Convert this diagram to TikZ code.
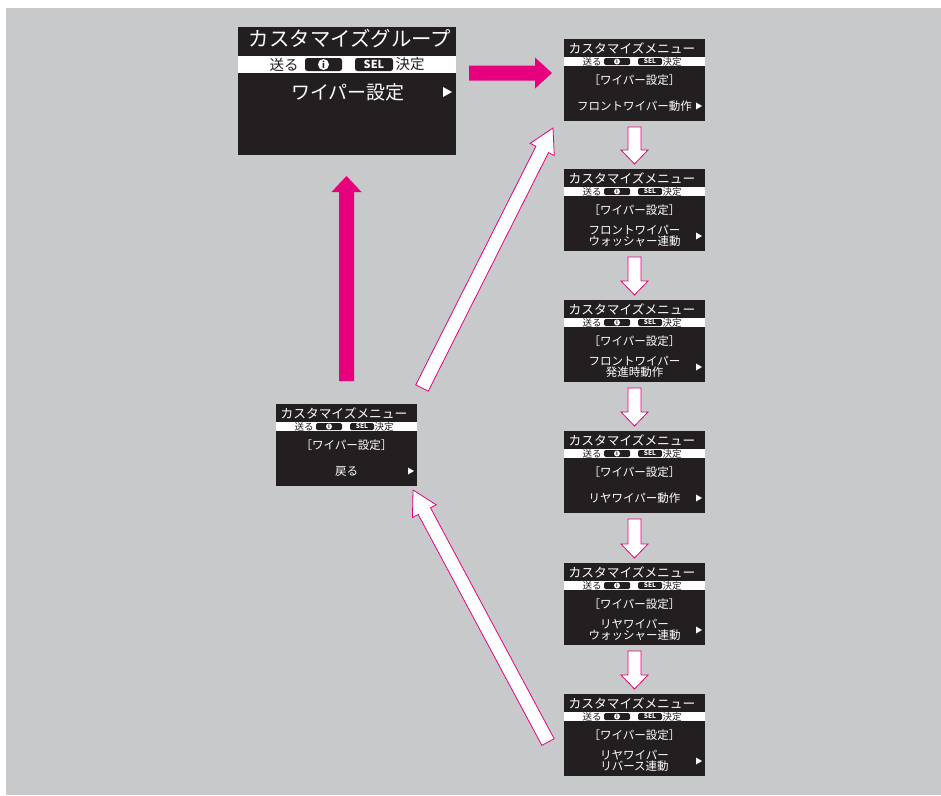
\documentclass[tikz,border=0pt]{standalone}
\usepackage{fontspec}
\newfontfamily\jp{Noto Sans CJK JP}
\usetikzlibrary{calc}
\definecolor{bg}{RGB}{200,201,203}
\definecolor{scr}{RGB}{35,31,32}
\definecolor{mag}{RGB}{230,0,126}
\newcommand{\fs}[1]{\fontsize{#1}{#1}\selectfont}
\tikzset{
  every node/.style={inner sep=0pt, outer sep=0pt, font=\jp},
  scrbox/.style={fill=scr, minimum width=141pt, minimum height=82pt},
  band/.style={fill=white, minimum width=141pt, minimum height=9pt},
  wtxt/.style={text=white},
  btxt/.style={text=scr},
  keybox/.style={fill=scr, rounded corners=1.5pt},
  solidarr/.style={fill=mag, draw=none},
  hollowarr/.style={fill=white, draw=mag, line width=0.8pt, line join=miter},
}
% block arrow: #1 style, #2 start, #3 end, #4 half shaft, #5 half head, #6 head length
\newcommand{\blockarrow}[6]{%
  \coordinate (bah) at ($(#3)!#6!(#2)$);
  \path[#1] ($(#2)!#4!90:(#3)$) -- ($(bah)!#4!90:(#3)$) -- ($(bah)!#5!90:(#3)$) -- (#3)
    -- ($(bah)!#5!-90:(#3)$) -- ($(bah)!#4!-90:(#3)$) -- ($(#2)!#4!-90:(#3)$) -- cycle;
}
% small screen: #1 name, #2 left, #3 top, #4 item text
\newcommand{\smallscr}[4]{%
  \begin{scope}[shift={(#2,#3)}]
    \node[scrbox] (#1) at (70.5,41) {};
    \node[band] (#1b) at (70.5,22.5) {};
    \node[wtxt, font=\jp\fs{12.7}] (#1t) at (68,9.5) {カスタマイズメニュー};
    \node[btxt, font=\jp\fs{9.5}] (#1s) at (28,22.5) {送る};
    \node[keybox, minimum width=26pt, minimum height=7pt] (#1i) at (53,22.5) {};
    \node[circle, fill=white, minimum size=6pt, btxt, font=\jp\bfseries\fs{5}] (#1ic) at (53,22.5) {i};
    \node[keybox, minimum width=24pt, minimum height=7pt, wtxt, font=\jp\bfseries\fs{6.5}] (#1sel) at (86,22.5) {SEL};
    \node[btxt, font=\jp\fs{9.5}] (#1k) at (108,22.5) {決定};
    \node[wtxt, font=\jp\fs{11.5}] (#1w) at (70.5,41) {［ワイパー設定］};
    \node[wtxt, font=\jp\fs{11.5}, align=center] (#1m) at (70.5,67) {#4};
    \fill[white] (132,63.5) -- (138,67) -- (132,70.5) -- cycle;
  \end{scope}
}
\begin{document}
\begin{tikzpicture}[x=1pt,y=-1pt]
\useasboundingbox (0,0) rectangle (941,795);
\fill[bg] (6,8) rectangle (941,795);

% big screen
\begin{scope}[shift={(238,27)}]
  \node[fill=scr, minimum width=218pt, minimum height=128pt] (big) at (109,64) {};
  \node[fill=white, minimum width=218pt, minimum height=17pt] (bigb) at (109,37.5) {};
  \node[wtxt, font=\jp\fs{20.4}] (bigt) at (112,11.5) {カスタマイズグループ};
  \node[btxt, font=\jp\fs{14.5}] (bigs) at (46,37.5) {送る};
  \node[keybox, rounded corners=2.5pt, minimum width=37pt, minimum height=13pt] (bigi) at (85.5,37.5) {};
  \node[circle, fill=white, minimum size=11pt, btxt, font=\jp\bfseries\fs{9}] (bigic) at (85.5,37.5) {i};
  \node[keybox, rounded corners=2.5pt, minimum width=38pt, minimum height=13pt, wtxt, font=\jp\bfseries\fs{11}] (bigsel) at (136,37.5) {SEL};
  \node[btxt, font=\jp\fs{14.5}] (bigk) at (172,37.5) {決定};
  \node[wtxt, font=\jp\fs{19}] (bigm) at (110,65) {ワイパー設定};
  \fill[white] (205,60) -- (214,65) -- (205,70) -- cycle;
\end{scope}

% column screens
\smallscr{s1}{564}{39}{フロントワイパー動作}
\smallscr{s2}{564}{169}{フロントワイパー\\ウォッシャー連動}
\smallscr{s3}{564}{300}{フロントワイパー\\発進時動作}
\smallscr{s4}{564}{431}{リヤワイパー動作}
\smallscr{s5}{564}{563}{リヤワイパー\\ウォッシャー連動}
\smallscr{s6}{564}{694}{リヤワイパー\\リバース連動}
% left screen
\smallscr{s0}{276}{404}{戻る}

% arrows
\coordinate (pr1) at (469,73);
\coordinate (pr2) at (552,73);
\coordinate (pu1) at (346.5,381);
\coordinate (pu2) at (346.5,176);
\blockarrow{solidarr}{pr1}{pr2}{7.5pt}{15.5pt}{17pt}
\blockarrow{solidarr}{pu1}{pu2}{7.5pt}{15pt}{16pt}

\coordinate (l1s) at (422,388);
\coordinate (l1e) at (553,128);
\coordinate (l2s) at (548,742);
\coordinate (l2e) at (413,490);
\blockarrow{hollowarr}{l1s}{l1e}{7pt}{13.5pt}{24pt}
\blockarrow{hollowarr}{l2s}{l2e}{7pt}{13.5pt}{24pt}

\coordinate (d1s) at (634.5,127);
\coordinate (d1e) at (634.5,164);
\coordinate (d2s) at (634.5,257);
\coordinate (d2e) at (634.5,295);
\coordinate (d3s) at (634.5,388);
\coordinate (d3e) at (634.5,426);
\coordinate (d4s) at (634.5,519);
\coordinate (d4e) at (634.5,558);
\coordinate (d5s) at (634.5,651);
\coordinate (d5e) at (634.5,689);
\blockarrow{hollowarr}{d1s}{d1e}{6.5pt}{13.5pt}{14pt}
\blockarrow{hollowarr}{d2s}{d2e}{6.5pt}{13.5pt}{14pt}
\blockarrow{hollowarr}{d3s}{d3e}{6.5pt}{13.5pt}{14pt}
\blockarrow{hollowarr}{d4s}{d4e}{6.5pt}{13.5pt}{14pt}
\blockarrow{hollowarr}{d5s}{d5e}{6.5pt}{13.5pt}{14pt}
\end{tikzpicture}
\end{document}
